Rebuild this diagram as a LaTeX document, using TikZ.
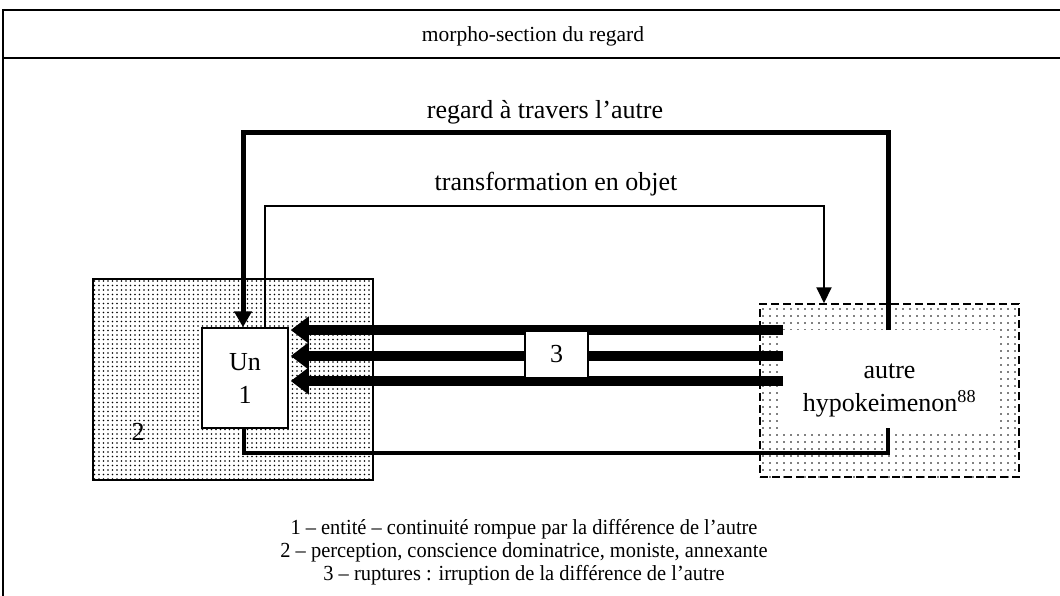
\documentclass[tikz,border=0pt]{standalone}
\usepackage{fontspec}
\setmainfont{Liberation Serif}
\newfontfamily\cond[FakeStretch=0.95]{Liberation Serif}
\usetikzlibrary{arrows.meta,patterns.meta}
\begin{document}
\begin{tikzpicture}[x=1pt,y=-1pt,
  big/.style={font=\fontsize{26}{33}\selectfont},
  box/.style={draw, line width=1.5pt, inner sep=0pt},
  brk/.style={line width=10pt, -{Triangle[length=18pt,width=26pt]}},
  regardline/.style={line width=5pt, -{Triangle[length=16pt,width=17pt]}},
  transline/.style={line width=2pt, -{Triangle[length=16pt,width=15pt]}},
  backline/.style={line width=4pt},
  frame/.style={line width=2pt}
]
\useasboundingbox (0,0) rectangle (1060,596);
\clip (0,0) rectangle (1060,596);
% frame
\draw[frame] (1070,10) -- (3,10) -- (3,600);
\draw[frame] (3,58) -- (1070,58);
\node[font=\fontsize{21.5}{24}\selectfont] (title) at (533,36) {morpho-section du regard};
% boxes
\node[box, pattern={Dots[distance=4.5pt,radius=0.9pt]}, minimum width=280pt, minimum height=201pt] (perc) at (233,379.5) {};
\node[big] (two) at (138,432) {2};
\node[box, fill=white, minimum width=86pt, minimum height=100pt, align=center, big] (un) at (245,378) {Un\\1};
\node[box, dashed, dash pattern=on 8pt off 4pt, minimum width=259pt, minimum height=173pt,
  pattern={Dots[distance=7pt,radius=0.9pt]},
  path picture={\fill[white] ([shift={(22pt,-26pt)}]path picture bounding box.north west) rectangle ([shift={(-24pt,47pt)}]path picture bounding box.south east);},
  align=center, big] (autre) at (889.5,390.5) {autre\\hypokeimenon\textsuperscript{88}};
% connectors
\coordinate (s1) at (783,330);
\coordinate (s2) at (783,356);
\coordinate (s3) at (783,381);
\draw[brk] (s1) -- ([xshift=2pt]s1 -| un.east);
\draw[brk] (s2) -- ([xshift=2pt]s2 -| un.east);
\draw[brk] (s3) -- ([xshift=2pt]s3 -| un.east);
\node[box, fill=white, minimum width=63pt, minimum height=47pt, big] (three) at (556.5,354.5) {3};
\coordinate (rA) at (888,330);
\coordinate (rT) at (888,133);
\draw[regardline] (rA) -- (rT) -| ([xshift=-2pt]un.north);
\node[big] (lregard) at (545,112) {regard à travers l’autre};
\coordinate (tT) at (824,206);
\draw[transline] ([xshift=20pt]un.north) |- (tT) -- (tT |- autre.north);
\node[big] (ltrans) at (556,184) {transformation en objet};
\coordinate (bA) at (888,428);
\coordinate (bB) at (888,453);
\draw[backline] (bA) -- (bB) -| ([xshift=-1pt]un.south);
\node[align=center, font=\cond\fontsize{21.5}{23}\selectfont] (legend) at (524,552) {1 – entité – continuité rompue par la différence de l’autre\\2 – perception, conscience dominatrice, moniste, annexante\\3 – ruptures : irruption de la différence de l’autre};
\end{tikzpicture}
\end{document}
